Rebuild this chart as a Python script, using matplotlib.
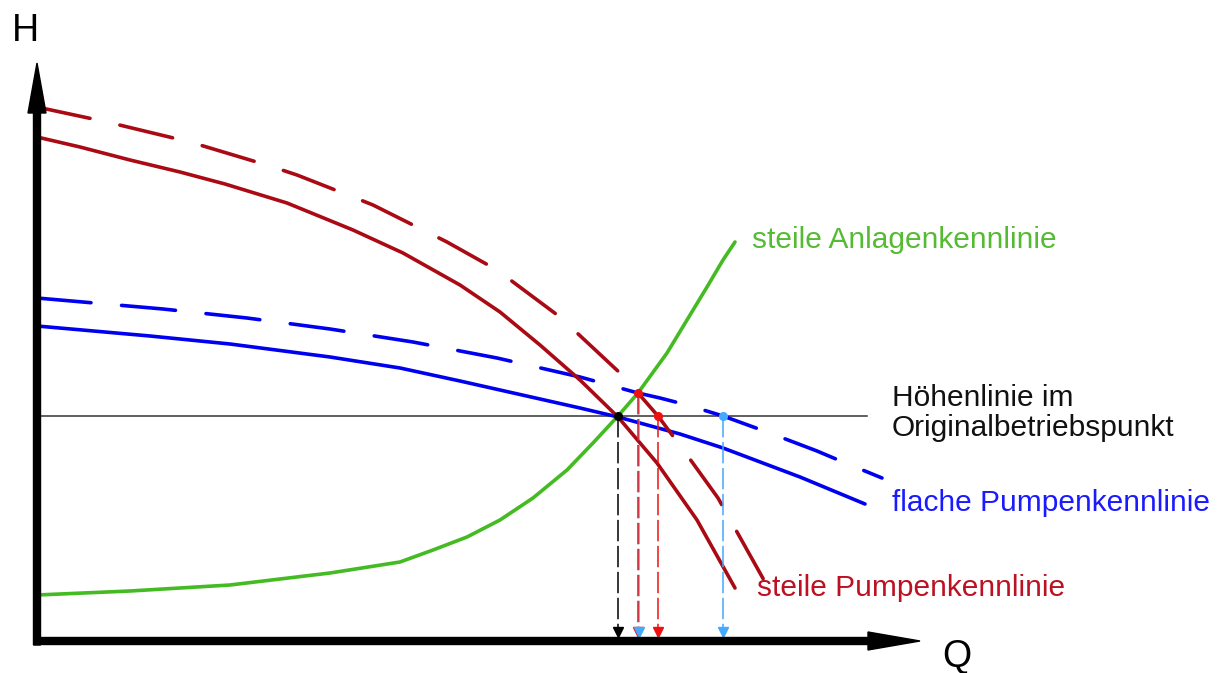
import matplotlib
matplotlib.use("Agg")
import matplotlib.pyplot as plt

plt.rcParams['font.family'] = ['Liberation Sans', 'DejaVu Sans']

# Kennlinien (Q, H), origin at the axis corner
steile_pumpe_q = [0, 43, 93, 143, 188, 250, 316, 366, 423, 463, 503, 543, 581, 620, 660, 698]
steile_pumpe_h = [503, 493, 480, 468, 456, 437, 410, 387, 355, 328, 295, 260, 223, 177, 120, 52]

steile_pumpe_neu_q = [0, 70, 153, 233, 260, 311, 336, 386, 410, 460, 523, 583, 601, 621, 650, 681, 728]
steile_pumpe_neu_h = [533, 518, 498, 474, 465, 445, 435, 410, 398, 370, 323, 267, 247, 224, 185, 142, 58]

flache_pumpe_q = [0, 113, 193, 293, 363, 423, 463, 543, 581, 643, 686, 763, 828]
flache_pumpe_h = [314, 304, 296, 283, 272, 259, 250, 232, 223, 206, 192, 163, 136]

flache_pumpe_neu_q = [0, 126, 210, 293, 376, 460, 543, 601, 623, 650, 686, 730, 780, 806, 845]
flache_pumpe_neu_h = [342, 331, 322, 311, 298, 282, 263, 247, 242, 235, 224, 208, 189, 178, 162]

anlage_q = [0, 93, 193, 293, 363, 396, 430, 463, 496, 530, 556, 581, 601, 630, 650, 670, 686, 698]
anlage_h = [45, 49, 55, 67, 78, 90, 103, 120, 142, 170, 197, 224, 247, 287, 320, 353, 380, 398]

hoehe_original = 224
hoehe_q_end = 830

# Betriebspunkte (rot vor hellblau, damit die hellblaue Spitze oben liegt)
punkte_q = [581, 601, 621, 602, 686]
punkte_h = [224, 247, 224, 247, 224]
punkte_farbe = ['black', '#ee1111', '#ee1111', '#44aaff', '#44aaff']
punkte_dot = [True, True, True, False, True]

RED = '#aa0a14'
BLUE = '#0000f0'
GREEN = '#44bb22'

fig = plt.figure(figsize=(12.28, 6.73), dpi=100)
ax = fig.add_axes([0, 0, 1, 1])
ax.set_xlim(-37, 1191)
ax.set_ylim(-33, 640)
ax.axis('off')

# Höhenlinie
ax.plot([0, hoehe_q_end], [hoehe_original, hoehe_original], color='#333333', lw=1.1, zorder=2)

# Kennlinien
ax.plot(flache_pumpe_q, flache_pumpe_h, color=BLUE, lw=2.6, zorder=3, solid_capstyle='round')
ax.plot(flache_pumpe_neu_q, flache_pumpe_neu_h, color=BLUE, lw=2.6, zorder=3,
        dashes=(15, 8.5), dash_capstyle='round')
ax.plot(steile_pumpe_q, steile_pumpe_h, color=RED, lw=2.6, zorder=4, solid_capstyle='round')
ax.plot(steile_pumpe_neu_q, steile_pumpe_neu_h, color=RED, lw=2.6, zorder=4,
        dashes=(15, 8.5), dash_capstyle='round')
ax.plot(anlage_q, anlage_h, color=GREEN, lw=2.6, zorder=5, solid_capstyle='round')

# gestrichelte Pfeile runter zur Q-Achse
for i, (q, h, c) in enumerate(zip(punkte_q, punkte_h, punkte_farbe)):
    ax.plot([q, q], [h, 12], color=c, lw=1.1, dashes=(14, 3), zorder=6 - i * 0.01)
    ax.plot(q, 8, marker='v', color=c, markersize=6.5, zorder=7 + i * 0.01)
    if punkte_dot[i]:
        ax.plot(q, h, marker='o', color=c, markersize=5.5, zorder=7.5)

# Achsen (1 Dateneinheit = 1 Pixel)
ax.arrow(0, -5, 0, 582, width=7, head_width=18, head_length=50,
         length_includes_head=True, color='black', zorder=8)
ax.arrow(-3, -1, 886, 0, width=7, head_width=18, head_length=52,
         length_includes_head=True, color='black', zorder=8)

ax.text(-12, 609, 'H', fontsize=27, ha='center', va='center')
ax.text(920, -17, 'Q', fontsize=27, ha='center', va='center')

ax.text(715, 400, 'steile Anlagenkennlinie', fontsize=21.5, color='#55bb33', va='center')
ax.text(855, 242, 'Höhenlinie im', fontsize=21.5, color='#111111', va='center')
ax.text(855, 212, 'Originalbetriebspunkt', fontsize=21.5, color='#111111', va='center')
ax.text(855, 137, 'flache Pumpenkennlinie', fontsize=21.5, color='#1a1aff', va='center')
ax.text(720, 52, 'steile Pumpenkennlinie', fontsize=21.5, color='#bb1122', va='center')

fig.savefig('out.png', dpi=100)
